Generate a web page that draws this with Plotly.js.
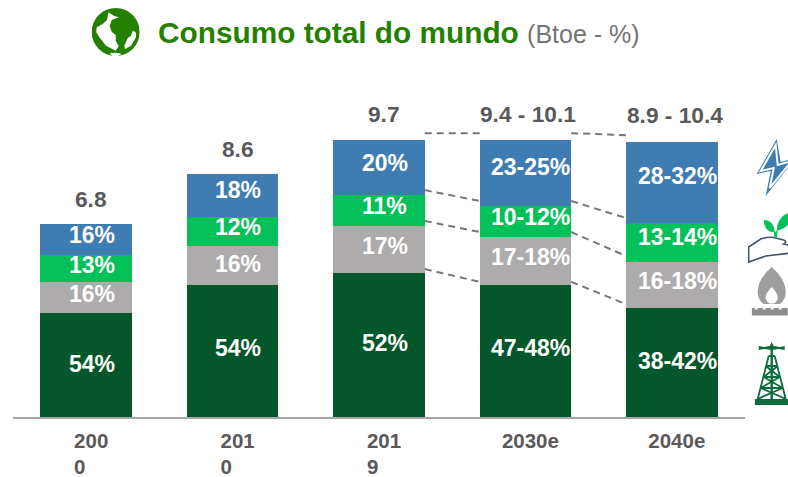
<!DOCTYPE html>
<html>
<head>
<meta charset="utf-8">
<script src="https://cdn.plot.ly/plotly-3.0.1.min.js"></script>
<style>html,body{margin:0;padding:0;background:#fff;overflow:hidden}#chart{width:788px;height:477px}</style>
</head>
<body>
<div id="chart"></div>
<script>
// ---- data ----
const positions = [0, 1, 2, 3, 4];
const tickLabels = ['200<br>0\u00A0\u00A0\u00A0\u00A0', '201<br>0\u00A0\u00A0\u00A0\u00A0', '201<br>9\u00A0\u00A0\u00A0\u00A0', '2030e', '2040e'];
const totalLabels = ['6.8', '8.6', '9.7', '9.4 - 10.1', '8.9 - 10.4'];
const oil = [3.65, 4.63, 5.05, 4.63, 3.82];
const gas = [1.09, 1.37, 1.65, 1.68, 1.61];
const renewables = [0.95, 1.02, 1.09, 1.09, 1.37];
const electricity = [1.09, 1.51, 1.93, 2.32, 2.84];
const oilLabels = ['54%', '54%', '52%', '47-48%', '38-42%'];
const gasLabels = ['16%', '16%', '17%', '17-18%', '16-18%'];
const renewableLabels = ['13%', '12%', '11%', '10-12%', '13-14%'];
const electricityLabels = ['16%', '18%', '20%', '23-25%', '28-32%'];
const connectorsA = [[9.96, 9.96], [7.96, 7.58], [6.88, 6.49], [5.19, 4.74]];
const connectorsB = [[9.96, 9.89], [7.58, 6.98], [6.49, 5.65], [4.74, 3.96]];

// ---- layout constants ----
const W = 788, H = 477, L = 13.3, R = 745.3, T = 95, B = 417;
const yMax = 11.298, barW = 0.625;
const col = {oil: '#03572A', gas: '#ADABAB', ren: '#04C058', ele: '#3E7CB1', txt: '#595959', dash: '#777777', title: '#268000'};
const px = x => (x - L) / (R - L);
const py = y => (B - y) / (B - T);

const series = [
  {y: oil, c: col.oil, labels: oilLabels, up: [1, 3, 2, 3, 1.5]},
  {y: gas, c: col.gas, labels: gasLabels, up: [3.5, 1.5, 3.5, 4, 4]},
  {y: renewables, c: col.ren, labels: renewableLabels, up: [3.5, 4.5, 4.5, 4.5, 5.5]},
  {y: electricity, c: col.ele, labels: electricityLabels, up: [4.5, 5.5, 4.5, 6, 6.5]}
];
const traces = series.map(s => ({
  type: 'bar', x: positions, y: s.y, width: barW,
  marker: {color: s.c, line: {width: 0}}, hoverinfo: 'skip'
}));
const dashLine = (x0, x1, ys) => ({
  type: 'scatter', mode: 'lines', x: [x0, x1], y: ys,
  line: {color: col.dash, width: 2, dash: '7px,5px'}, hoverinfo: 'skip'
});
connectorsA.forEach(ys => traces.push(dashLine(2 + barW / 2, 3 - barW / 2, ys)));
connectorsB.forEach(ys => traces.push(dashLine(3 + barW / 2, 4 - barW / 2, ys)));

const annotations = [];
const base = positions.map(() => 0);
series.forEach(s => {
  positions.forEach(i => {
    annotations.push({
      x: i, y: base[i] + s.y[i] / 2, xref: 'x', yref: 'y', text: '<b>' + s.labels[i] + '</b>',
      showarrow: false, xshift: 5.5, yshift: s.up[i], xanchor: 'center', yanchor: 'middle',
      font: {family: 'Liberation Sans', size: 23, color: '#fff'}
    });
    base[i] += s.y[i];
  });
});
const totalShift = [5, 5, 5, 3, 3.5], totalUp = [25, 25, 26, 26, 27];
positions.forEach(i => annotations.push({
  x: i, y: base[i], xref: 'x', yref: 'y', text: '<b>' + totalLabels[i] + '</b>',
  showarrow: false, xshift: totalShift[i], yshift: totalUp[i], xanchor: 'center', yanchor: 'middle',
  font: {family: 'Liberation Sans', size: 22.7, color: col.txt}
}));

const svg = (w, h, body) => 'data:image/svg+xml;utf8,' + encodeURIComponent(
  `<svg xmlns="http://www.w3.org/2000/svg" width="${w}" height="${h}" viewBox="0 0 ${w} ${h}">${body}</svg>`);

const globe = svg(48, 48, `<circle cx="24" cy="24" r="24" fill="${col.title}"/>
<path d="M16.7 4.3 L22 7.7 L27 9.3 L20 12 L18 18 L20 24 L24 27 L24 33 L27 38 L24 42.7 L14.3 37.7 L7.7 29.3 L4.5 24.3 L5 19.3 L11 16 L15.3 12 L16 7.7 Z" fill="#fff"/>
<path d="M32.7 37.7 L36 30 L39 28 L41 23 L44 24 L44.3 29.3 L39.3 37.7 L33.3 41 Z" fill="#fff"/>
<path d="M18 45.5 Q24 44 30 46 L26 48 H21 Z" fill="#fff"/>`);

const bolt = svg(52, 60, `<path d="M23 1 L3 36 L17 33 L12 58 L42 20 L27 24 Z" fill="${col.ele}"/>
<path d="M22 7 L7 33 L20 30 L16 50 L38 23 L24 27 Z" fill="none" stroke="#fff" stroke-width="2"/>`);

const plant = svg(60, 52, `<path d="M1 35 L13 27 Q22 24 28 26 L36 28 Q40 30 36 32 L41 33 L52 30 L52 40 L18 44 L1 50 Z" fill="#fff" stroke="#44546A" stroke-width="1.6"/>
<path d="M16 8 Q26 8 27 20 Q17 21 16 8 Z" fill="${col.ren}"/>
<path d="M29 19 Q29 6 40 1 L41 12 Q37 17 29 19 Z" fill="${col.ren}"/>
<path d="M27 20 L28 26 M29 19 L28 26" stroke="${col.ren}" stroke-width="2"/>`);

const flame = svg(50, 50, `<path fill-rule="evenodd" d="M20 1 Q34 13 34 26 Q34 34 28 38 H12 Q6 34 6 26 Q6 13 20 1 Z M20 21 Q13 28 14 33 Q15 36 18 37.5 H22 Q25 36 26 33 Q27 28 20 21 Z" fill="#9E9E9E"/>
<path d="M0 42 h3 v1.5 h3 v-1.5 h5 v1.5 h3 v-1.5 h5 v1.5 h3 v-1.5 h5 v1.5 h3 v-1.5 h6 v7.5 h-36 Z" fill="#8C8C8C"/>`);

const rig = svg(50, 64, `<g fill="none" stroke="#0B6B3A" stroke-width="1.8">
<path d="M14 14 L3 57 M20 14 L31 57 M14 14 H20 M11 24 H23 M9 35 H25 M6 46 H28 M11 24 L25 35 M23 24 L9 35 M9 35 L28 46 M25 35 L6 46 M6 46 L31 57 M28 46 L3 57"/>
<path d="M17 4 V57" stroke-width="2.4"/></g>
<path d="M17 0 L19 4 L25 5 L30 4 L30 8 L24 7 L17 8 L10 7 L4 8 L4 4 L9 5 L15 4 Z" fill="#0B6B3A"/>
<rect x="0" y="57" width="36" height="6" fill="#0B6B3A"/>`);

const icon = (source, x, y, w, h) => ({
  source, xref: 'paper', yref: 'paper', x: px(x), y: py(y),
  sizex: w / (R - L), sizey: h / (B - T), xanchor: 'left', yanchor: 'top',
  sizing: 'stretch', layer: 'above'
});

const layout = {
  width: W, height: H, showlegend: false, barmode: 'stack', bargap: 0.375,
  paper_bgcolor: '#fff', plot_bgcolor: '#fff',
  margin: {l: L, r: W - R, t: T, b: H - B, pad: 0},
  title: {
    text: `<b>Consumo total do mundo</b> <span style="font-size:25px;color:#737373">(Btoe - %)</span>`,
    xref: 'container', yref: 'container', x: 158 / W, y: 1 - 33 / H, xanchor: 'left', yanchor: 'middle',
    font: {family: 'Liberation Sans', size: 29.8, color: col.title}
  },
  xaxis: {
    type: 'linear', range: [-0.5, 4.5], tickmode: 'array', tickvals: positions, ticktext: tickLabels,
    ticks: '', showgrid: false, zeroline: false, showline: true, linecolor: '#A6A6A6', linewidth: 2,
    ticklabelshift: 5, ticklabelstandoff: 4,
    tickfont: {family: 'Liberation Sans', size: 20.5, color: col.txt, weight: 'bold'}
  },
  yaxis: {range: [0, yMax], visible: false, fixedrange: true},
  annotations,
  images: [
    icon(globe, 92, 8, 48, 48),
    icon(bolt, 754, 138, 52, 60),
    icon(plant, 748, 212, 60, 52),
    icon(flame, 752, 266, 50, 50),
    icon(rig, 755, 342, 50, 64)
  ]
};
Plotly.newPlot('chart', traces, layout, {displayModeBar: false, staticPlot: true});
</script>
</body>
</html>
